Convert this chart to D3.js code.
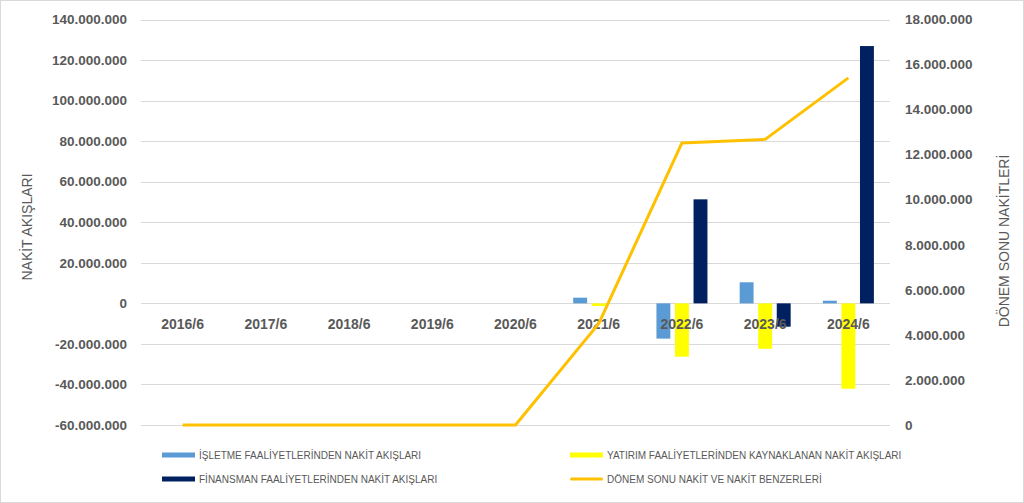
<!DOCTYPE html>
<html><head><meta charset="utf-8">
<script src="https://cdn.jsdelivr.net/npm/d3@7"></script>
<style>body{margin:0;background:#fff}svg{display:block}</style>
</head><body>
<svg id="c" width="1024" height="503"></svg>
<script>
const categories = ["2016/6","2017/6","2018/6","2019/6","2020/6","2021/6","2022/6","2023/6","2024/6"];
const isletme   = [0,0,0,0,0, 2800000, -17400000, 10400000, 1300000];
const yatirim   = [0,0,0,0,0, -1300000, -26300000, -22400000, -42100000];
const finansman = [0,0,0,0,0, 0, 51300000, -11500000, 126900000];
const donemSonu = [0,0,0,0,0, 4500000, 12520000, 12680000, 15410000];
const seriesNames = ["İŞLETME FAALİYETLERİNDEN NAKİT AKIŞLARI","YATIRIM FAALİYETLERİNDEN KAYNAKLANAN NAKİT AKIŞLARI","FİNANSMAN FAALİYETLERİNDEN NAKİT AKIŞLARI","DÖNEM SONU NAKİT VE NAKİT BENZERLERİ"];
const leftTicks = [-60000000,-40000000,-20000000,0,20000000,40000000,60000000,80000000,100000000,120000000,140000000];
const rightTicks = [0,2000000,4000000,6000000,8000000,10000000,12000000,14000000,16000000,18000000];
const leftTitle = "NAKİT AKIŞLARI";
const rightTitle = "DÖNEM SONU NAKİTLERİ";

const colors = ["#5B9BD5","#FFFF00","#002060","#FFC000"];
const svg = d3.select("#c");
const font = "'Liberation Sans', Arial, sans-serif";
const gray = "#595959";

svg.append("rect").attr("x",0.5).attr("y",0.5).attr("width",1023).attr("height",502)
  .attr("fill","#fff").attr("stroke","#d9d9d9");

const x0 = d3.scaleBand().domain(categories).range([141,890]).padding(0);
const yL = d3.scaleLinear().domain([-60000000,140000000]).range([425,19.5]);
const yR = d3.scaleLinear().domain([0,18000000]).range([425,19.5]);
const loc = d3.formatLocale({decimal:",",thousands:".",grouping:[3],currency:["",""],minus:"-"});
const fmt = loc.format(",d");

// gridlines
svg.append("g").selectAll("line").data(leftTicks).join("line")
  .attr("x1",141).attr("x2",890)
  .attr("y1",d=>Math.round(yL(d))+0.5).attr("y2",d=>Math.round(yL(d))+0.5)
  .attr("stroke","#d9d9d9").attr("stroke-width",1);

// left axis labels
svg.append("g").selectAll("text").data(leftTicks).join("text")
  .attr("x",127).attr("y",d=>yL(d)).attr("dy","0.35em")
  .attr("text-anchor","end").attr("font-family",font).attr("font-weight","bold")
  .attr("font-size",13.5).attr("fill",gray).text(d=>fmt(d));

// right axis labels
svg.append("g").selectAll("text").data(rightTicks).join("text")
  .attr("x",905).attr("y",d=>yR(d)).attr("dy","0.35em")
  .attr("text-anchor","start").attr("font-family",font).attr("font-weight","bold")
  .attr("font-size",13.5).attr("fill",gray).text(d=>fmt(d));

// bars
const barSeries = [isletme, yatirim, finansman];
const x1 = d3.scaleBand().domain([0,1,2]).range([-25.5,25.5]).paddingInner(0.25);
barSeries.forEach((vals,si)=>{
  svg.append("g").selectAll("rect").data(vals.map((v,i)=>({v,c:categories[i]}))).join("rect")
    .attr("x",d=>x0(d.c)+x0.bandwidth()/2+x1(si))
    .attr("width",x1.bandwidth())
    .attr("y",d=>Math.min(yL(d.v),yL(0)))
    .attr("height",d=>Math.abs(yL(d.v)-yL(0)))
    .attr("fill",colors[si]);
});

// category labels
svg.append("g").selectAll("text").data(categories).join("text")
  .attr("x",d=>x0(d)+x0.bandwidth()/2).attr("y",329)
  .attr("text-anchor","middle").attr("font-family",font).attr("font-weight","bold")
  .attr("font-size",14).attr("fill",gray).text(d=>d);

// line
const line = d3.line().x((d,i)=>x0(categories[i])+x0.bandwidth()/2).y(d=>yR(d));
svg.append("path").datum(donemSonu).attr("d",line).attr("fill","none")
  .attr("stroke",colors[3]).attr("stroke-width",3).attr("stroke-linejoin","round");

// axis titles
svg.append("text").attr("transform","translate(32,227) rotate(-90)")
  .attr("text-anchor","middle").attr("font-family",font).attr("font-size",14)
  .attr("fill",gray).text(leftTitle);
svg.append("text").attr("transform","translate(1009,241) rotate(-90)")
  .attr("text-anchor","middle").attr("font-family",font).attr("font-size",14)
  .attr("fill",gray).text(rightTitle);

// legend
const legPos = [[162,455],[570,455],[162,479],[570,479]];
const lg = svg.append("g");
seriesNames.forEach((name,i)=>{
  const [lx,ly] = legPos[i];
  if(i<3){
    lg.append("rect").attr("x",lx).attr("y",ly-2.5).attr("width",33).attr("height",5).attr("fill",colors[i]);
  } else {
    lg.append("line").attr("x1",lx+1.5).attr("x2",lx+31.5).attr("y1",ly).attr("y2",ly)
      .attr("stroke",colors[i]).attr("stroke-width",3).attr("stroke-linecap","round");
  }
  lg.append("text").attr("x",lx+37).attr("y",ly).attr("dy","0.35em")
    .attr("font-family",font).attr("font-size",10).attr("fill",gray).text(name);
});
</script>
</body></html>
